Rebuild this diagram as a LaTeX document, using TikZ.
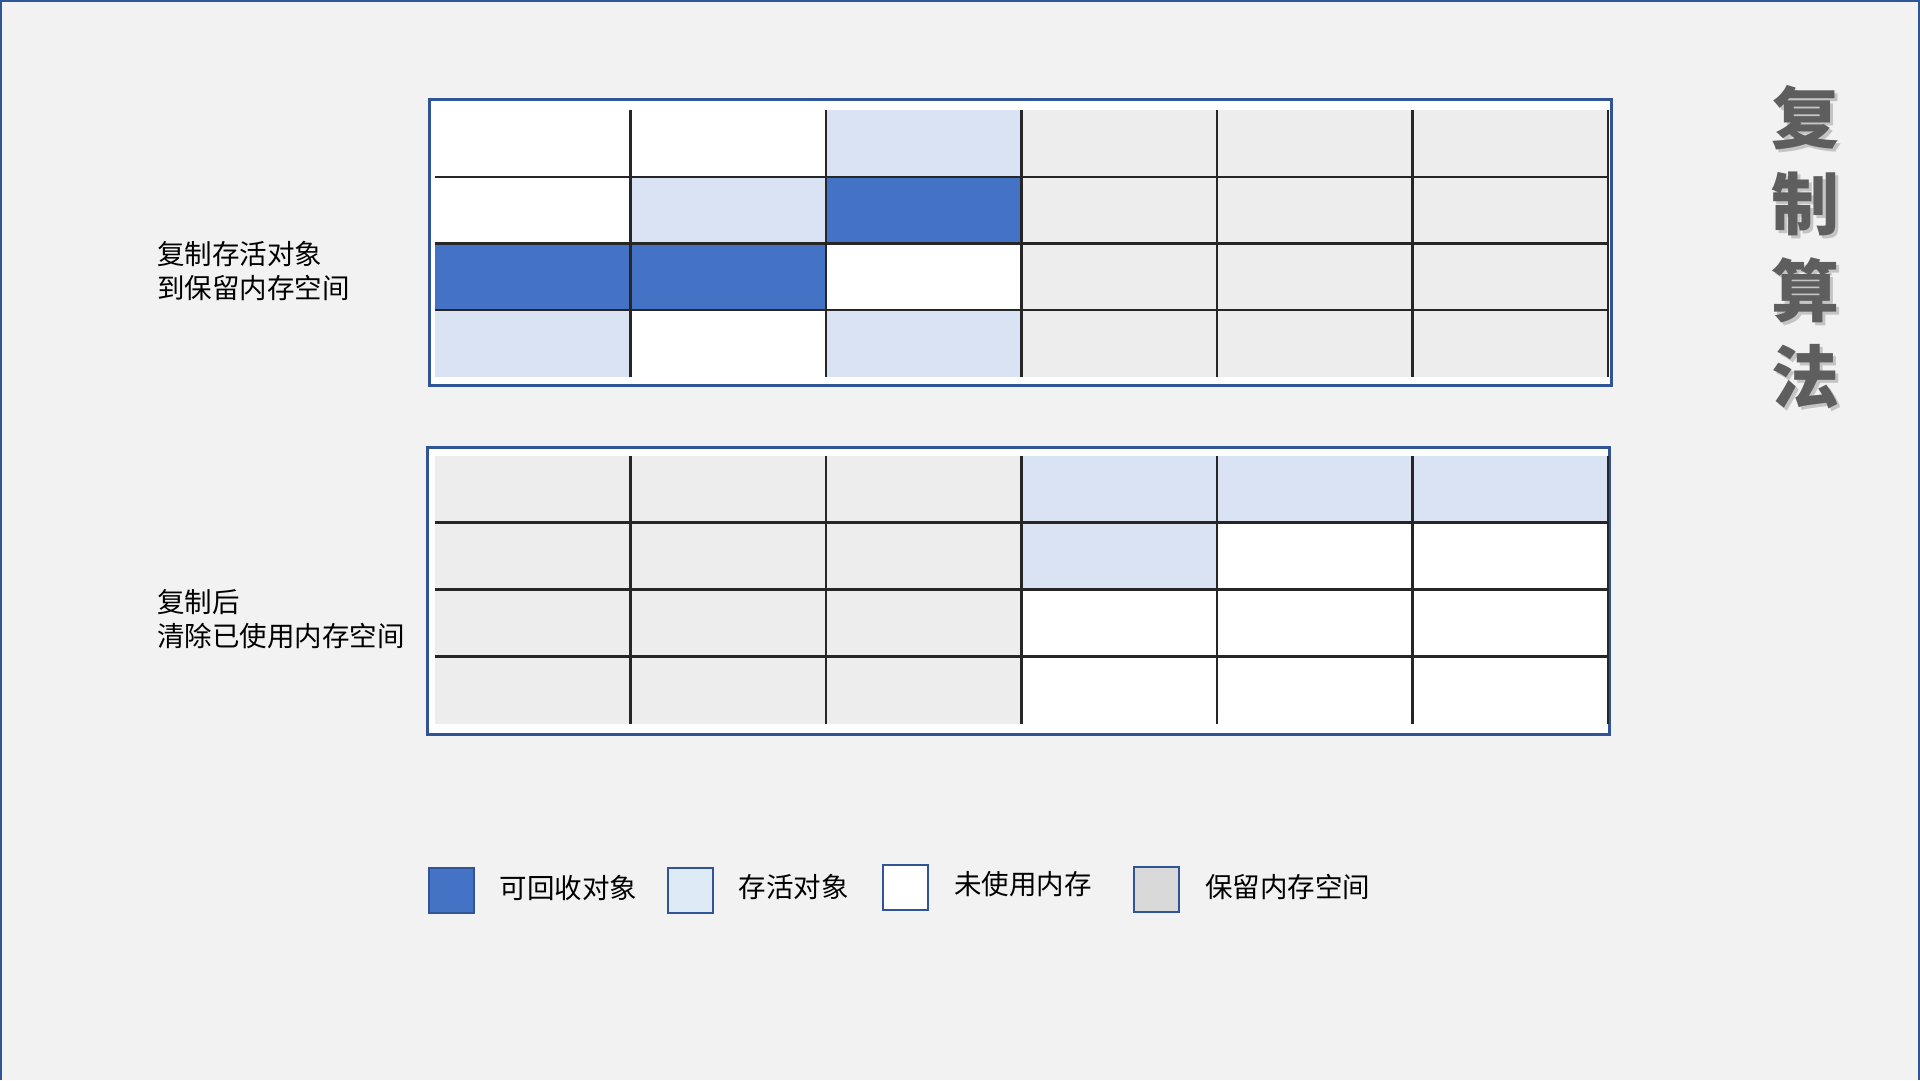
\documentclass[tikz,border=0pt]{standalone}
\usepackage{fontspec}
\newfontfamily\cjk{Noto Sans CJK SC}
\usetikzlibrary{positioning}
\definecolor{pagebg}{HTML}{F2F2F2}
\definecolor{frameblue}{HTML}{2F5597}
\definecolor{deadblue}{HTML}{4472C4}
\definecolor{liveblue}{HTML}{DAE3F3}
\definecolor{livekey}{HTML}{DEEBF7}
\definecolor{keepgray}{HTML}{EDEDED}
\definecolor{keepkey}{HTML}{D9D9D9}
\definecolor{titlegray}{HTML}{5E5E5E}
\tikzset{
 pageline/.style={draw=frameblue,line width=2pt},
 heapbox/.style={draw=frameblue,fill=white,line width=3pt},
 gridline/.style={line width=2.2pt,black!85},
 cellB/.style={fill=deadblue},
 cellL/.style={fill=liveblue},
 cellW/.style={fill=white},
 cellG/.style={fill=keepgray},
 steplabel/.style={anchor=west,align=left,inner sep=0,font=\cjk\fontsize{27.5}{34}\selectfont},
 keybox/.style={draw=frameblue,line width=2pt,minimum width=45pt,minimum height=45pt,inner sep=0},
 keytext/.style={anchor=west,inner sep=0,font=\cjk\fontsize{27.5}{34}\selectfont,yshift=3pt},
 titletext/.style={align=center,inner sep=0,font=\cjk\bfseries\fontsize{68}{86.5}\selectfont}
}

\begin{document}
\begin{tikzpicture}[x=1pt,y=-1pt]
\fill[pagebg] (0,0) rectangle (1920,1080);
\path[use as bounding box] (0,0) rectangle (1920,1080);
\draw[pageline] (1,1080) -- (1,1) -- (1919,1) -- (1919,1080);
\node[titletext,text=black!35,opacity=.6] (titleshadow) at (1808,250) {复\\制\\算\\法};
\node[titletext,text=titlegray] (title) at (1805,247) {复\\制\\算\\法};
% before copying
\draw[heapbox] (429.5,99.5) rectangle (1611.5,385.5);
\foreach \cells [count=\r from 0] in {{W,W,L,G,G,G},{W,L,B,G,G,G},{B,B,W,G,G,G},{L,W,L,G,G,G}}
 \foreach \c [count=\k from 0] in \cells
  \fill[cell\c] (435+195.5*\k,110+66.75*\r) rectangle ++(195.5,66.75);
\foreach \k in {1,...,6}
 \draw[gridline] (435+195.5*\k,110) -- ++(0,267);
\foreach \r in {1,2,3}
 \draw[gridline] (435,110+66.75*\r) -- ++(1173,0);
% after copying
\draw[heapbox] (427.5,447.5) rectangle (1609,734);
\foreach \cells [count=\r from 0] in {{G,G,G,L,L,L},{G,G,G,L,W,W},{G,G,G,W,W,W},{G,G,G,W,W,W}}
 \foreach \c [count=\k from 0] in \cells
  \fill[cell\c] (435+195.5*\k,455.5+67*\r) rectangle ++(195.5,67);
\foreach \k in {1,...,6}
 \draw[gridline] (435+195.5*\k,455.5) -- ++(0,268);
\foreach \r in {1,2,3}
 \draw[gridline] (435,455.5+67*\r) -- ++(1173,0);
\node[steplabel] (copylabel) at (157,271) {复制存活对象\\到保留内存空间};
\node[steplabel] (clearlabel) at (157,619) {复制后\\清除已使用内存空间};
% legend
\node[keybox,fill=deadblue] (keydead) at (451,890.5) {};
\node[keytext,right=25pt of keydead] (keydeadtext) {可回收对象};
\node[keybox,fill=livekey] (keylive) at (690,890) {};
\node[keytext,right=25pt of keylive] (keylivetext) {存活对象};
\node[keybox,fill=white] (keyfree) at (905.5,887.5) {};
\node[keytext,right=25pt of keyfree] (keyfreetext) {未使用内存};
\node[keybox,fill=keepkey] (keykeep) at (1156.5,889.5) {};
\node[keytext,right=25pt of keykeep] (keykeeptext) {保留内存空间};
\end{tikzpicture}
\end{document}
